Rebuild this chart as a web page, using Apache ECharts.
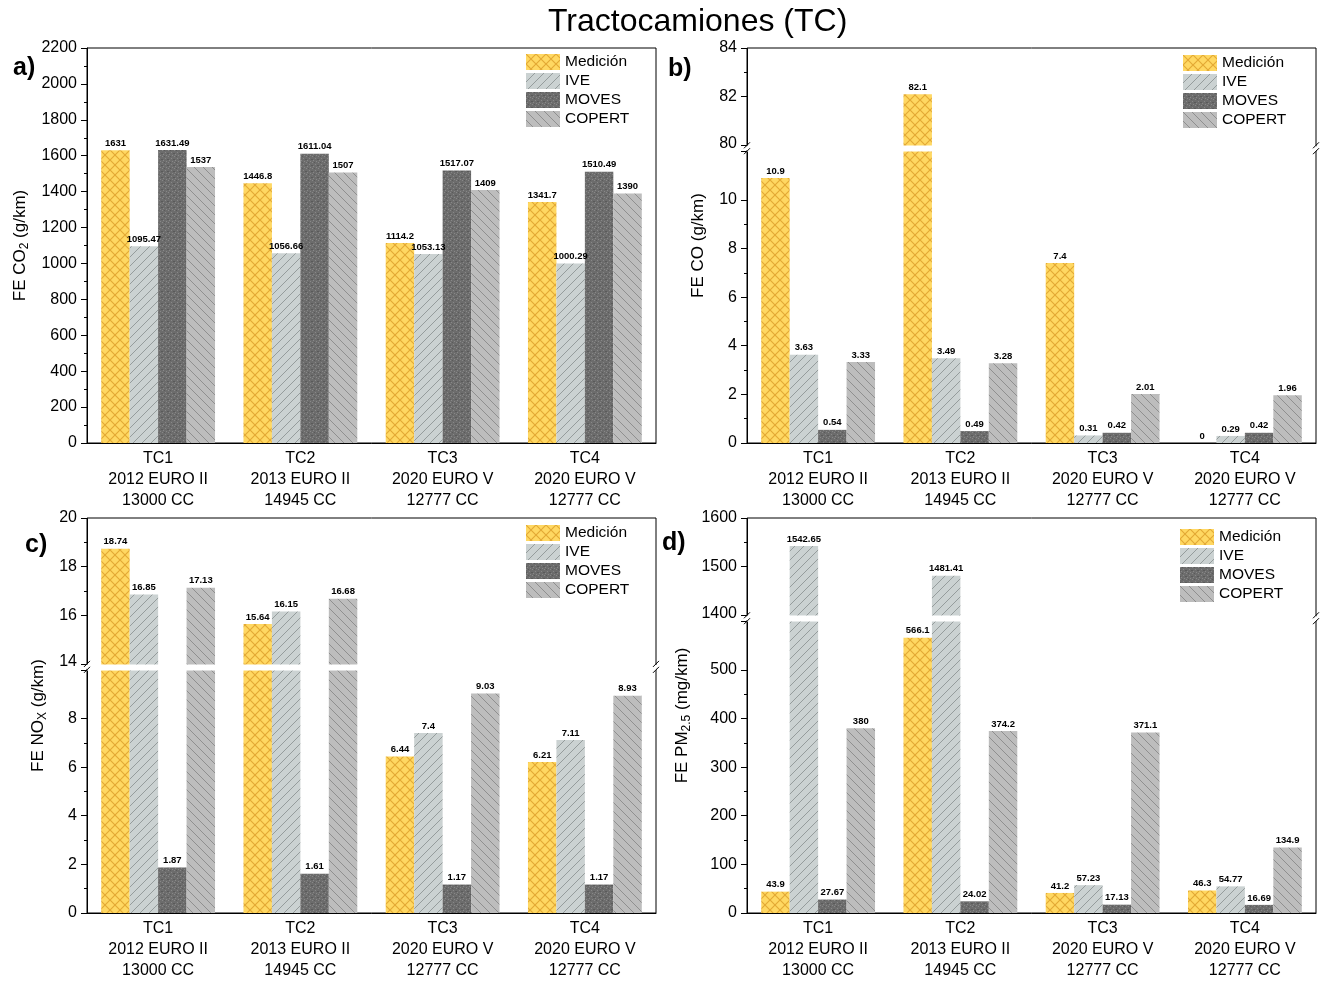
<!DOCTYPE html>
<html>
<head>
<meta charset="utf-8">
<script src="https://cdn.jsdelivr.net/npm/echarts@6/dist/echarts.min.js"></script>
<style>
  html, body { margin: 0; padding: 0; background: #fff; }
  #chart { width: 1320px; height: 981px; }
</style>
</head>
<body>
<div id="chart"></div>
<script>
// Vehicle categories (x axis)
const categories = [
  'TC1\n2012 EURO II\n13000 CC',
  'TC2\n2013 EURO II\n14945 CC',
  'TC3\n2020 EURO V\n12777 CC',
  'TC4\n2020 EURO V\n12777 CC'
];
const seriesNames = ['Medición', 'IVE', 'MOVES', 'COPERT'];

// a) CO2 emission factors (g/km)
const co2Medicion = [1631, 1446.8, 1114.2, 1341.7];
const co2IVE = [1095.47, 1056.66, 1053.13, 1000.29];
const co2MOVES = [1631.49, 1611.04, 1517.07, 1510.49];
const co2COPERT = [1537, 1507, 1409, 1390];

// b) CO emission factors (g/km)
const coMedicion = [10.9, 82.1, 7.4, 0];
const coIVE = [3.63, 3.49, 0.31, 0.29];
const coMOVES = [0.54, 0.49, 0.42, 0.42];
const coCOPERT = [3.33, 3.28, 2.01, 1.96];

// c) NOx emission factors (g/km)
const noxMedicion = [18.74, 15.64, 6.44, 6.21];
const noxIVE = [16.85, 16.15, 7.4, 7.11];
const noxMOVES = [1.87, 1.61, 1.17, 1.17];
const noxCOPERT = [17.13, 16.68, 9.03, 8.93];

// d) PM2.5 emission factors (mg/km)
const pmMedicion = [43.9, 566.1, 41.2, 46.3];
const pmIVE = [1542.65, 1481.41, 57.23, 54.77];
const pmMOVES = [27.67, 24.02, 17.13, 16.69];
const pmCOPERT = [380, 374.2, 371.1, 134.9];

const FONT = '"Liberation Sans", Arial, Helvetica, sans-serif';

// ---- hatch fills ----
function makePattern(base, size, draw) {
  const c = document.createElement('canvas');
  c.width = size; c.height = size;
  const ctx = c.getContext('2d');
  ctx.fillStyle = base;
  ctx.fillRect(0, 0, size, size);
  draw(ctx, size);
  return { image: c, repeat: 'repeat' };
}
function diagLines(ctx, s, dir) {
  ctx.beginPath();
  for (let k = -s; k <= s; k += s) {
    if (dir > 0) { ctx.moveTo(k, s); ctx.lineTo(k + s, 0); }
    else { ctx.moveTo(k, 0); ctx.lineTo(k + s, s); }
  }
  ctx.stroke();
}
const fillMedicion = makePattern('#FFD862', 10, (ctx, s) => {
  ctx.strokeStyle = '#E4A935'; ctx.lineWidth = 1.2;
  diagLines(ctx, s, 1); diagLines(ctx, s, -1);
});
const fillIVE = makePattern('#CBD2D2', 9, (ctx, s) => {
  ctx.strokeStyle = '#8E9595'; ctx.lineWidth = 0.9;
  diagLines(ctx, s, 1);
});
const fillMOVES = makePattern('#6C6C6C', 6, (ctx, s) => {
  ctx.fillStyle = '#888888';
  ctx.fillRect(0, 0, 1, 1); ctx.fillRect(3, 2, 1, 1); ctx.fillRect(1, 4, 1, 1); ctx.fillRect(4, 5, 1, 1);
  ctx.fillStyle = '#5A5A5A';
  ctx.fillRect(2, 0, 1, 1); ctx.fillRect(5, 3, 1, 1); ctx.fillRect(0, 3, 1, 1);
});
const fillCOPERT = makePattern('#BDBDBD', 9, (ctx, s) => {
  ctx.strokeStyle = '#8A8A8A'; ctx.lineWidth = 0.9;
  diagLines(ctx, s, -1);
});
const fills = [fillMedicion, fillIVE, fillMOVES, fillCOPERT];

// ---- panels ----
const panels = [
  { left: 87, top: 48, height: 395, max: 2200, interval: 200,
    name: '{t|FE CO}{s|2}{t| (g/km)}', nameGap: 56,
    data: [co2Medicion, co2IVE, co2MOVES, co2COPERT], brk: null },
  { left: 747, top: 48, height: 395, max: 84, interval: 2,
    name: '{t|FE CO (g/km)}', nameGap: 40,
    data: [coMedicion, coIVE, coMOVES, coCOPERT], brk: [12, 80] },
  { left: 87, top: 518, height: 396, max: 20, interval: 2,
    name: '{t|FE NO}{s|X}{t| (g/km)}', nameGap: 38,
    data: [noxMedicion, noxIVE, noxMOVES, noxCOPERT], brk: [10, 14] },
  { left: 747, top: 518, height: 396, max: 1600, interval: 100,
    name: '{t|FE PM}{s|2.5}{t| (mg/km)}', nameGap: 54,
    data: [pmMedicion, pmIVE, pmMOVES, pmCOPERT], brk: [600, 1400] }
];
const letters = [
  { t: 'a', left: 13, top: 56 }, { t: 'b', left: 668, top: 57 },
  { t: 'c', left: 25, top: 533 }, { t: 'd', left: 662, top: 531 }
];
const legendPos = [
  { left: 526, top: 54 }, { left: 1183, top: 55 },
  { left: 526, top: 525 }, { left: 1180, top: 529 }
];

const grids = [], xAxes = [], yAxes = [], series = [], legends = [];
panels.forEach((p, i) => {
  grids.push({ left: p.left, top: p.top, width: 569, height: p.height,
    show: true, borderColor: '#000', borderWidth: 1, backgroundColor: 'transparent' });
  xAxes.push({ type: 'category', gridIndex: i, data: categories,
    axisLine: { lineStyle: { color: '#000', width: 1 } },
    axisTick: { show: false },
    axisLabel: { color: '#000', fontSize: 16, fontFamily: FONT, lineHeight: 21, margin: 5, interval: 0 } });
  const y = { type: 'value', gridIndex: i, min: 0, max: p.max, interval: p.interval,
    name: p.name, nameLocation: 'middle', nameGap: p.nameGap,
    nameTextStyle: { color: '#000', fontFamily: FONT,
      rich: { t: { fontSize: 17, fontFamily: FONT, color: '#000' },
              s: { fontSize: 12, fontFamily: FONT, color: '#000', padding: [9, 0, 0, 0] } } },
    axisLine: { show: true, lineStyle: { color: '#000', width: 1 } },
    axisTick: { show: true, length: 6, lineStyle: { color: '#000' } },
    minorTick: { show: true, splitNumber: 2, length: 3, lineStyle: { color: '#000' } },
    splitLine: { show: false },
    axisLabel: { color: '#000', fontSize: 16, fontFamily: FONT, margin: 10,
      formatter: (v) => (p.brk && v === p.brk[0]) ? '' : String(v) } };
  if (p.brk) {
    y.breaks = [{ start: p.brk[0], end: p.brk[1], gap: '1.5%' }];
    y.breakArea = { show: true, expandOnClick: false, zigzagAmplitude: 0,
      itemStyle: { color: '#fff', borderColor: '#fff', borderWidth: 0, opacity: 1 } };
  }
  yAxes.push(y);
  p.data.forEach((d, k) => {
    series.push({ type: 'bar', name: seriesNames[k], data: d,
      xAxisIndex: i, yAxisIndex: i, barGap: '0%', barCategoryGap: '20%',
      itemStyle: { color: fills[k] },
      label: { show: true, position: 'top', distance: 2, fontSize: 9.5, fontWeight: 'bold',
        color: '#000', fontFamily: FONT },
      emphasis: { disabled: true } });
  });
  legends.push({ data: seriesNames, orient: 'vertical', left: legendPos[i].left, top: legendPos[i].top,
    padding: 0, z: 200, itemWidth: 34, itemHeight: 16, itemGap: 3, icon: 'rect', selectedMode: false,
    textStyle: { color: '#000', fontSize: 15.5, fontFamily: FONT } });
});

const titles = [{ text: 'Tractocamiones (TC)', left: 548, top: 6, padding: 0,
  textStyle: { fontSize: 32, fontWeight: 'normal', color: '#000', fontFamily: FONT } }];
letters.forEach(l => titles.push({ text: '{b|' + l.t + '}{n|)}', left: l.left, top: l.top, padding: 0,
  textStyle: { rich: { b: { fontSize: 25, fontWeight: 'bold', color: '#000', fontFamily: FONT },
                       n: { fontSize: 25, color: '#000', fontFamily: FONT } } } }));

const chart = echarts.init(document.getElementById('chart'), null, { renderer: 'canvas' });
chart.setOption({
  animation: false,
  backgroundColor: '#fff',
  title: titles,
  legend: legends,
  grid: grids,
  xAxis: xAxes,
  yAxis: yAxes,
  series: series
});

// "//" break marks on the left and right frame lines
const marks = [];
panels.forEach((p, i) => {
  if (!p.brk) return;
  const yLo = chart.convertToPixel({ yAxisIndex: i }, p.brk[0]);
  const yHi = chart.convertToPixel({ yAxisIndex: i }, p.brk[1]);
  [p.left, p.left + 569].forEach(x => {
    marks.push({ type: 'rect', shape: { x: x - 2, y: yHi + 1, width: 4, height: yLo - yHi - 2 },
      style: { fill: '#fff' }, z: 100 });
    [yHi, yLo].forEach(yy => marks.push({ type: 'line',
      shape: { x1: x - 3, y1: yy + 3, x2: x + 3, y2: yy - 3 },
      style: { stroke: '#000', lineWidth: 1 }, z: 101 }));
  });
});
chart.setOption({ graphic: marks });
</script>
</body>
</html>
